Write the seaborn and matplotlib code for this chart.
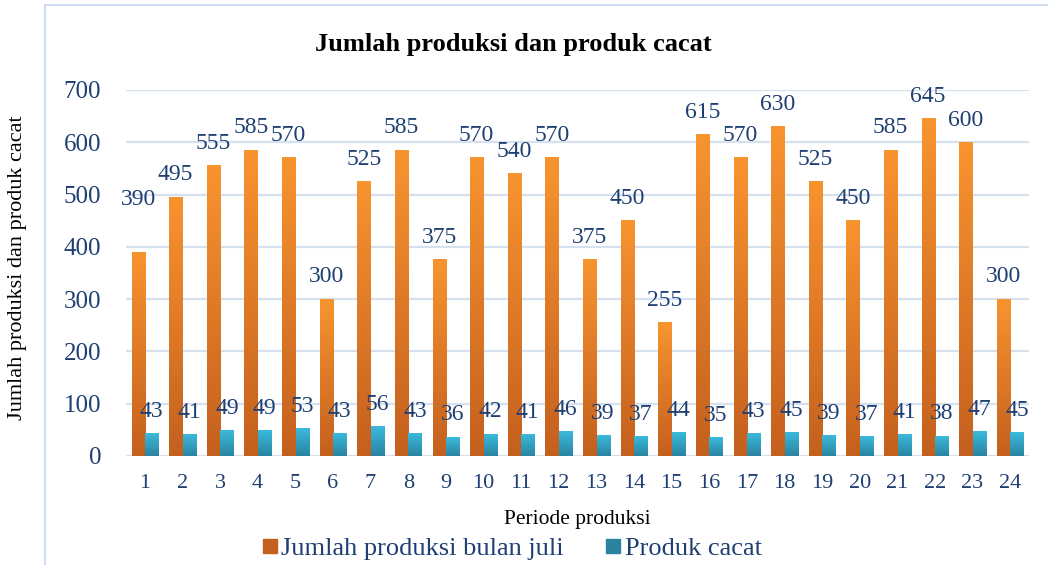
import numpy as np
import pandas as pd
import matplotlib
matplotlib.use("Agg")
import matplotlib.pyplot as plt
import seaborn as sns
from matplotlib.patches import Rectangle
from matplotlib.lines import Line2D
from matplotlib.colors import LinearSegmentedColormap

periode = [str(i) for i in range(1, 25)]
produksi = [390, 495, 555, 585, 570, 300, 525, 585, 375, 570, 540, 570,
            375, 450, 255, 615, 570, 630, 525, 450, 585, 645, 600, 300]
cacat = [43, 41, 49, 49, 53, 43, 56, 43, 36, 42, 41, 46,
         39, 37, 44, 35, 43, 45, 39, 37, 41, 38, 47, 45]
series_names = ["Jumlah produksi bulan juli", "Produk cacat"]
yticks = [0, 100, 200, 300, 400, 500, 600, 700]

df = pd.DataFrame({
    "Periode": periode * 2,
    "Nilai": produksi + cacat,
    "Seri": [series_names[0]] * 24 + [series_names[1]] * 24,
})

sns.set_theme(style="white")
plt.rcParams["font.family"] = ["Liberation Serif", "DejaVu Serif"]

txt_col = "#1F3F73"
orange_top, orange_bot = "#F8942F", "#C4601E"
blue_top, blue_bot = "#3BBADC", "#2A84A0"
grid_col = "#D6E1EF"

fig = plt.figure(figsize=(10.48, 5.65), dpi=100)
ax = fig.add_axes([126 / 1048, 1 - 456 / 565, (1029 - 126) / 1048, (456 - 90) / 565])

sns.barplot(data=df, x="Periode", y="Nilai", hue="Seri", order=periode,
            hue_order=series_names, palette=[orange_top, blue_top],
            width=0.72, gap=0.04, ax=ax, legend=False, zorder=3)

ax.set_ylim(0, 700)
ax.set_xlim(-0.5, 23.5)
ax.set_yticks(yticks)
ax.yaxis.grid(True, color=grid_col, lw=1.6, zorder=0)
ax.set_axisbelow(True)
for s in ax.spines.values():
    s.set_visible(False)

cmaps = {
    0: LinearSegmentedColormap.from_list("o", [orange_bot, orange_top]),
    1: LinearSegmentedColormap.from_list("b", [blue_bot, blue_top]),
}
grad = np.linspace(0, 1, 256).reshape(-1, 1)
patches = list(ax.patches)
for i, p in enumerate(patches[:48]):
    k = 0 if i < 24 else 1
    x0, y0 = p.get_x(), p.get_y()
    w, h = p.get_width(), p.get_height()
    p.set_visible(False)
    ax.imshow(grad, extent=[x0, x0 + w, y0, y0 + h], origin="lower",
              aspect="auto", cmap=cmaps[k], zorder=3, interpolation="bilinear")
    val = produksi[i] if k == 0 else cacat[i - 24]
    extra = 22 if (k == 0 and i == 0) else 0
    ax.annotate(str(val), (x0 + w / 2, y0 + h),
                xytext=(0, 16 + extra), textcoords="offset points",
                ha="center", va="center", fontsize=17, color=txt_col, zorder=5)

ax.set_ylim(0, 700)
ax.set_xlim(-0.5, 23.5)
ax.tick_params(axis="y", labelsize=18, labelcolor=txt_col, length=0, pad=18)
ax.tick_params(axis="x", labelsize=16, labelcolor=txt_col, length=0, pad=13)
ax.set_xlabel("Periode produksi", fontsize=15.5, color="black", labelpad=12)
ax.set_ylabel("")

fig.text(18 / 1048, 1 - 268 / 565, "Jumlah produksi dan produk cacat",
         rotation=90, ha="center", va="center", fontsize=16, color="black")
fig.text(513 / 1048, 1 - 45 / 565, "Jumlah produksi dan produk cacat",
         ha="center", va="center", fontsize=19, fontweight="bold", color="black")

# chart border
fig.patches.append(Rectangle((45 / 1048, -0.05), 1.0, 1 - 5 / 565 + 0.05,
                             transform=fig.transFigure, fill=False,
                             edgecolor="#D0DDEE", lw=1.5, zorder=0))

handles = [Line2D([0], [0], marker="s", ls="", markersize=10,
                  markerfacecolor=orange_bot, markeredgecolor=orange_bot),
           Line2D([0], [0], marker="s", ls="", markersize=10,
                  markerfacecolor=blue_bot, markeredgecolor=blue_bot)]
leg = fig.legend(handles, series_names, loc="center", ncol=2,
                 bbox_to_anchor=(511 / 1048, 1 - 548 / 565), frameon=False,
                 fontsize=19, handletextpad=0.1, columnspacing=1.5,
                 borderaxespad=0, handlelength=0.7)
for t in leg.get_texts():
    t.set_color(txt_col)

fig.savefig("out.png", dpi=100)
